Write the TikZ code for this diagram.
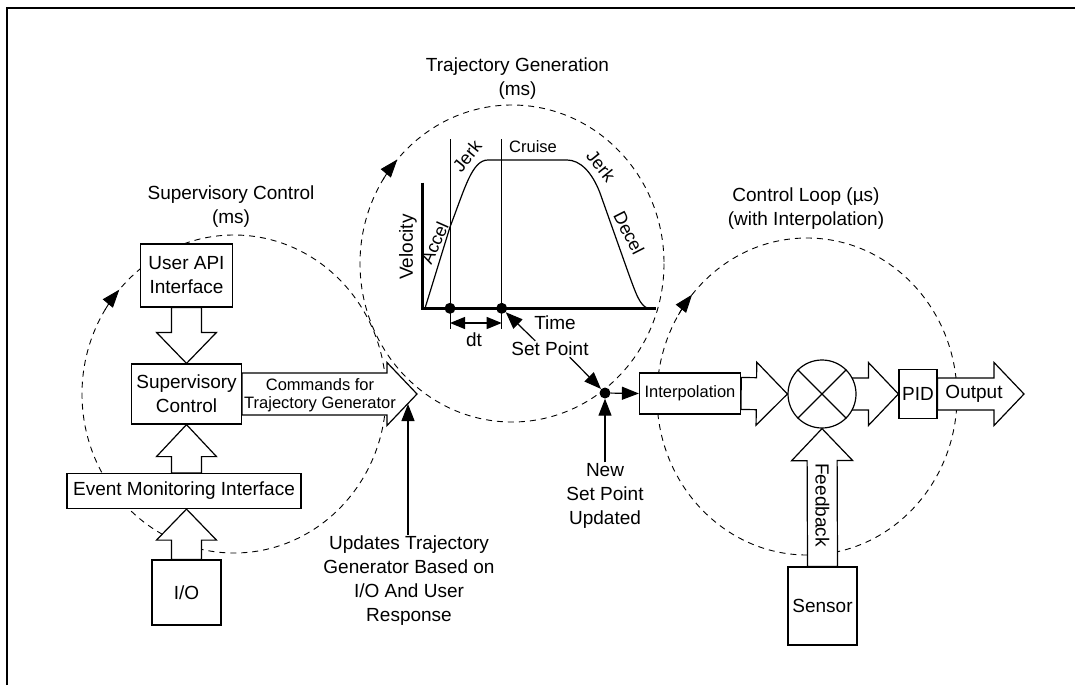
\documentclass[tikz,border=0pt]{standalone}
\usepackage{fontspec}
\setmainfont{Liberation Sans}
\usepackage{tikz}
\usetikzlibrary{arrows.meta, positioning, calc}

\pgfdeclarelayer{front}
\pgfsetlayers{main,front}

\newcommand{\bigfont}{\fontsize{19}{24}\selectfont}
\newcommand{\midfont}{\fontsize{18}{22}\selectfont}
\newcommand{\smallfont}{\fontsize{16.5}{17.5}\selectfont}

\begin{document}
\begin{tikzpicture}[x=1pt, y=-1pt,
  box/.style={draw, fill=white, line width=1.2pt, align=center, inner sep=0pt, font=\bigfont},
  lbl/.style={align=center, inner sep=1pt, font=\bigfont},
  smalltxt/.style={align=center, inner sep=1pt, font=\smallfont},
  graphtxt/.style={inner sep=1pt, font=\midfont},
  loopline/.style={line width=0.9pt, dash pattern=on 6pt off 5pt},
  looptip/.style={line width=0.9pt, -{Triangle[length=18pt, width=13pt]}},
  arr/.style={line width=1.2pt, -{Triangle[length=17pt, width=13pt]}},
  dotnode/.style={circle, fill=black, inner sep=0pt, minimum size=11pt},
  sumnode/.style={circle, draw, fill=white, line width=1.2pt, inner sep=0pt, minimum size=68pt},
  fat/.style n args={3}{draw, fill=white, line width=1.2pt, line join=miter,
    to path={($(\tikztostart)!#1!-90:(\tikztotarget)$)
      -- ($(\tikztotarget)!#3!(\tikztostart)!#1!90:(\tikztostart)$)
      -- ($(\tikztotarget)!#3!(\tikztostart)!#2!90:(\tikztostart)$)
      -- (\tikztotarget)
      -- ($(\tikztotarget)!#3!(\tikztostart)!#2!-90:(\tikztostart)$)
      -- ($(\tikztotarget)!#3!(\tikztostart)!#1!-90:(\tikztostart)$)
      -- ($(\tikztostart)!#1!90:(\tikztotarget)$) -- cycle}},
]
  \useasboundingbox (0,0) rectangle (1075,685);

  % frame
  \draw[line width=2.5pt] (7,685) -- (7,8) -- (1075,8);

  % loop centres
  \coordinate (supc) at (234,394);
  \coordinate (trajc) at (512,263.5);
  \coordinate (ctlc) at (807,396.5);

  % dashed loops, clockwise
  \draw[loopline] (supc) ellipse[x radius=152, y radius=159];
  \draw[looptip] ($(supc)+(212:152 and 159)$) arc[start angle=212, end angle=221, x radius=152, y radius=159];
  \draw[loopline] (trajc) ellipse[x radius=152, y radius=158.5];
  \draw[looptip] ($(trajc)+(212:152 and 158.5)$) arc[start angle=212, end angle=221, x radius=152, y radius=158.5];
  \draw[loopline] (ctlc) ellipse[x radius=150, y radius=158.5];
  \draw[looptip] ($(ctlc)+(211:150 and 158.5)$) arc[start angle=211, end angle=220, x radius=150, y radius=158.5];

  % loop titles
  \node[lbl] (suplbl) at (231,207) {Supervisory Control\\(ms)};
  \node[lbl] (trajlbl) at (517.5,78.5) {Trajectory Generation\\(ms)};
  \node[lbl] (ctllbl) at (806,209) {Control Loop (µs)\\(with Interpolation)};

  % supervisory side
  \node[box, minimum width=92pt, minimum height=63pt] (uapi) at (186.5,275.5) {User API\\Interface};
  \node[box, minimum width=110pt, minimum height=60pt] (supctl) at (186.5,394) {Supervisory\\Control};
  \node[box, minimum width=234pt, minimum height=35pt] (evt) at (184,491) {Event Monitoring Interface};
  \node[box, minimum width=69pt, minimum height=65pt] (io) at (186.5,592.5) {I/O};
  \coordinate (cmdtip) at (417,394);
  \coordinate (cmdedge) at (408,404);

  \draw[fat={15pt}{30pt}{31pt}] (uapi.south) to (supctl.north);
  \draw[fat={15pt}{30pt}{32pt}] (evt.north -| supctl.south) to (supctl.south);
  \draw[fat={15pt}{30pt}{31pt}] (io.north) to (evt.south -| io.north);
  \draw[fat={21pt}{31.5pt}{30pt}] (supctl.east) to (cmdtip);
  \node[smalltxt] (cmdlbl) at (320,395) {Commands for\\Trajectory Generator};

  \node[lbl] (updtxt) at (409,581) {Updates Trajectory\\Generator Based on\\I/O And User\\Response};
  \draw[arr] (updtxt.north -| cmdedge) -- (cmdedge);

  % velocity profile
  \draw[line width=3pt] (422.7,182.7) -- (422.7,308.3) -- (656,308.3);
  \draw[line width=1pt] (450,139) -- (450,329);
  \draw[line width=1pt] (501.7,139) -- (501.7,329);
  \draw[line width=1.2pt] (425,308.3) -- (450,227) .. controls (465,188) and (472,160) .. (488,160)
    -- (567,160) .. controls (580,160) and (592,172) .. (600,193)
    -- (628,272) .. controls (636,294) and (640,306) .. (648,308.3);
  \node[dotnode] (tdot1) at (450,308.3) {};
  \node[dotnode] (tdot2) at (501.7,308.3) {};
  \draw[line width=1.2pt, {Triangle[length=15pt, width=12pt]}-{Triangle[length=15pt, width=12pt]}] (450,323) -- (501.7,323);

  \node[lbl, rotate=90] (vellbl) at (408,247) {Velocity};
  \node[graphtxt, rotate=66] (acclbl) at (434.5,243) {Accel};
  \node[graphtxt, rotate=51] (jerk1) at (467,156) {Jerk};
  \node[smalltxt] (cruise) at (533,147) {Cruise};
  \node[graphtxt, rotate=-51] (jerk2) at (601,166) {Jerk};
  \node[graphtxt, rotate=-63] (decel) at (629,233) {Decel};
  \node[lbl] (dtlbl) at (474,340) {dt};
  \node[lbl] (timelbl) at (555,323) {Time};
  \node[lbl] (setpt) at (550,349) {Set Point};

  % set point junction
  \node[dotnode] (jdot) at (605,393) {};
  \draw[arr] ([xshift=25pt]setpt.north west) -- (tdot2);
  \draw[arr] ([xshift=-20pt]setpt.south east) -- (jdot);
  \node[lbl] (newtxt) at (605,496) {New\\Set Point\\Updated};
  \draw[arr] (newtxt) -- (jdot);

  % control loop
  \node[box, font=\smallfont, minimum width=101pt, minimum height=41pt] (interp) at (690,393.5) {Interpolation};
  \draw[arr] (jdot) -- (interp.west);
  \begin{pgfonlayer}{front}
    \node[sumnode] (sum) at (822,394) {};
    \draw[line width=1.2pt] (sum.45) -- (sum.225) (sum.135) -- (sum.-45);
  \end{pgfonlayer}
  \node[box, minimum width=38pt, minimum height=49pt] (pid) at (918,394) {PID};
  \node[box, minimum width=69pt, minimum height=78pt] (sensor) at (822.5,606) {Sensor};
  \coordinate (outtip) at (1024,394);

  \draw[fat={16pt}{31.5pt}{31pt}] (interp.east) to (sum.west);
  \draw[fat={16pt}{31.5pt}{30pt}] (sum.center) to (pid.west);
  \draw[fat={16pt}{31.5pt}{30pt}] (pid.east) to (outtip);
  \draw[fat={15pt}{30.5pt}{32pt}] (sensor.north) to (sum.south);
  \node[lbl] (outlbl) at (974,394) {Output};
  \node[lbl, rotate=-90] (fblbl) at (822.5,505) {Feedback};
\end{tikzpicture}
\end{document}
